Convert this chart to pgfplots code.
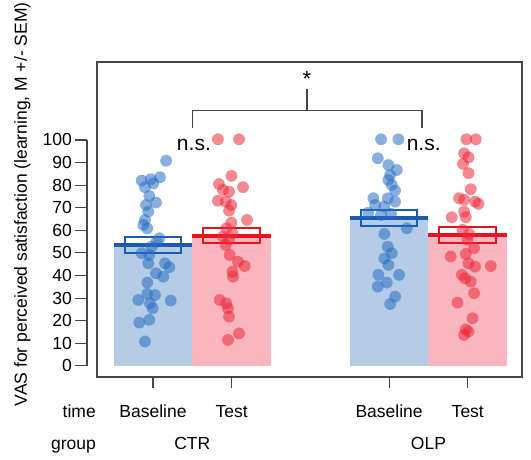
\documentclass[border=0pt]{standalone}
\usepackage{fontspec}
\setmainfont{Liberation Sans}
\usepackage{pgfplots}
\usepackage{pgfplotstable}
\pgfplotsset{compat=1.18}
\definecolor{barblue}{RGB}{180,204,230}
\definecolor{barred}{RGB}{249,182,190}
\definecolor{lineblue}{RGB}{25,92,178}
\definecolor{linered}{RGB}{232,18,30}
\definecolor{ptblue}{RGB}{40,110,195}
\definecolor{ptred}{RGB}{236,40,56}
\definecolor{axgray}{RGB}{70,70,70}

\pgfplotstableread{
x y
1.166 90.8
0.856 82.0
0.971 82.6
1.089 83.5
1.004 80.8
0.898 79.1
0.953 75.2
1.038 72.3
0.911 71.2
0.940 68.3
0.898 64.6
0.876 62.4
0.927 60.9
1.080 56.5
1.047 55.0
0.983 52.8
0.856 49.9
0.953 49.1
0.940 45.4
1.153 45.4
1.208 43.7
1.038 41.0
1.131 39.5
0.927 36.9
0.927 31.9
1.025 31.4
0.813 29.2
0.962 27.7
1.225 28.9
0.996 25.5
0.825 19.2
0.953 20.4
0.898 10.8
}\ctrbase

\pgfplotstableread{
x y
1.825 100.3
2.093 100.3
1.996 84.1
1.838 80.5
2.144 79.1
1.889 77.9
1.966 77.1
1.825 73.1
1.924 72.7
1.996 71.2
1.966 68.7
2.195 64.6
1.996 63.4
1.932 60.9
2.009 58.7
1.889 57.2
1.966 55.8
1.924 53.5
1.975 49.1
2.080 46.1
2.166 44.2
2.009 41.7
2.017 39.5
1.847 29.2
1.932 27.7
1.953 25.5
1.966 21.8
2.093 14.4
1.953 11.5
}\ctrtest

\pgfplotstableread{
x y
3.898 100.3
4.118 100.3
3.856 91.9
3.991 88.9
4.098 86.7
4.013 84.5
3.991 82.3
4.034 80.1
4.076 77.6
3.800 74.2
3.983 74.2
4.076 72.7
3.822 71.2
3.940 70.5
3.736 67.8
3.898 66.8
4.025 67.3
4.225 60.9
3.940 58.4
3.983 52.8
4.034 49.9
3.940 47.6
3.991 44.7
3.864 40.3
4.127 40.3
3.971 36.9
3.856 35.1
4.076 30.7
4.013 27.4
}\olpbase

\pgfplotstableread{
x y
4.983 100.3
5.102 100.3
4.953 94.1
5.009 92.3
4.940 89.4
5.009 85.3
5.038 78.2
4.889 74.2
4.953 73.5
5.136 71.7
5.093 72.7
4.953 68.3
4.796 65.8
4.975 65.8
4.932 60.2
5.017 58.4
4.996 55.8
5.080 52.1
4.783 48.4
4.975 49.6
5.009 45.4
5.093 43.9
5.293 44.2
4.924 40.3
4.966 38.8
5.038 37.3
5.080 32.2
4.869 28.0
5.060 21.1
4.975 16.2
4.953 13.7
5.009 15.2
}\olptest

\begin{document}
\begin{tikzpicture}[font=\fontsize{17.5}{21}\selectfont]
\begin{axis}[
  scale only axis, width=425pt, height=315pt,
  xmin=0.2884, xmax=5.689, ymin=-4.9, ymax=134.5,
  axis line style={axgray, line width=1.1pt},
  xtick=\empty, ytick=\empty,
  clip=false,
  dots/.style={only marks, mark=*, mark size=5.9pt, color=#1, mark options={draw opacity=0, fill=#1, fill opacity=0.55}},
]
% bars
\addplot[fill=barblue, draw=none] coordinates {(0.5,0) (1.5,0) (1.5,53.5) (0.5,53.5)} -- cycle;
\addplot[fill=barred, draw=none] coordinates {(1.5,0) (2.5,0) (2.5,57.6) (1.5,57.6)} -- cycle;
\addplot[fill=barblue, draw=none] coordinates {(3.5,0) (4.5,0) (4.5,65.5) (3.5,65.5)} -- cycle;
\addplot[fill=barred, draw=none] coordinates {(4.5,0) (5.5,0) (5.5,58.0) (4.5,58.0)} -- cycle;
% points
\addplot[dots=ptblue] table {\ctrbase};
\addplot[dots=ptred] table {\ctrtest};
\addplot[dots=ptblue] table {\olpbase};
\addplot[dots=ptred] table {\olptest};
% means
\addplot[lineblue, line width=4pt] coordinates {(0.5,53.5) (1.5,53.5)};
\addplot[linered, line width=4pt] coordinates {(1.5,57.6) (2.5,57.6)};
\addplot[lineblue, line width=4pt] coordinates {(3.5,65.5) (4.5,65.5)};
\addplot[linered, line width=4pt] coordinates {(4.5,58.0) (5.5,58.0)};
% SEM boxes
\addplot[lineblue, line width=2pt] coordinates {(0.64,50.0) (1.36,50.0) (1.36,57.0) (0.64,57.0)} -- cycle;
\addplot[linered, line width=2pt] coordinates {(1.64,54.3) (2.36,54.3) (2.36,61.0) (1.64,61.0)} -- cycle;
\addplot[lineblue, line width=2pt] coordinates {(3.64,61.8) (4.36,61.8) (4.36,68.9) (3.64,68.9)} -- cycle;
\addplot[linered, line width=2pt] coordinates {(4.64,54.3) (5.36,54.3) (5.36,61.6) (4.64,61.6)} -- cycle;
% significance bracket
\addplot[axgray, line width=1.1pt] coordinates {(1.5,105.1) (1.5,113) (4.418,113) (4.418,105.1)};
\addplot[axgray, line width=1.1pt] coordinates {(2.957,113) (2.957,122.7)};
\node[font=\fontsize{22}{24}\selectfont] at (axis cs:2.957,126.8) {*};
\node[anchor=base, font=\fontsize{21}{24}\selectfont] at (axis cs:1.52,95.4) {n.s.};
\node[anchor=base, font=\fontsize{21}{24}\selectfont] at (axis cs:4.44,95.4) {n.s.};
% y axis
\draw[axgray, line width=1.1pt] ([xshift=-10pt]axis cs:0.2884,0) -- ([xshift=-10pt]axis cs:0.2884,100);
\pgfplotsinvokeforeach{0,10,...,100}{
  \draw[axgray, line width=1.1pt] ([xshift=-10pt]axis cs:0.2884,#1) -- ([xshift=-22pt]axis cs:0.2884,#1);
  \node[anchor=east, inner sep=0pt] at ([xshift=-25pt]axis cs:0.2884,#1) {#1};
}
% x ticks
\pgfplotsinvokeforeach{1,2,4,5}{
  \draw[axgray, line width=1.1pt] (axis cs:#1,-4.9) -- ([yshift=-11pt]axis cs:#1,-4.9);
}
\node[anchor=base] at ([yshift=-41pt]axis cs:1,-4.9) {Baseline};
\node[anchor=base] at ([yshift=-41pt]axis cs:2,-4.9) {Test};
\node[anchor=base] at ([yshift=-41pt]axis cs:4,-4.9) {Baseline};
\node[anchor=base] at ([yshift=-41pt]axis cs:5,-4.9) {Test};
\node[anchor=base east, inner sep=0pt] at ([yshift=-41pt,xshift=-1pt]axis cs:0.2884,-4.9) {time};
\node[anchor=base east, inner sep=0pt] at ([yshift=-73pt,xshift=-1pt]axis cs:0.2884,-4.9) {group};
\node[anchor=base] at ([yshift=-73pt]axis cs:1.5,-4.9) {CTR};
\node[anchor=base] at ([yshift=-73pt]axis cs:4.5,-4.9) {OLP};
% y label
\node[rotate=90, anchor=base, inner sep=0pt] at ([xshift=-70pt]axis cs:0.2884,71.5) {VAS for perceived satisfaction (learning, M +/- SEM)};
\coordinate (bl) at (axis cs:0.2884,-4.9);
\coordinate (tr) at (axis cs:5.689,134.5);
\end{axis}
\pgfresetboundingbox
\path (bl) ++(-97pt,-83pt) rectangle ([shift={(9pt,62pt)}]tr);
\end{tikzpicture}
\end{document}
